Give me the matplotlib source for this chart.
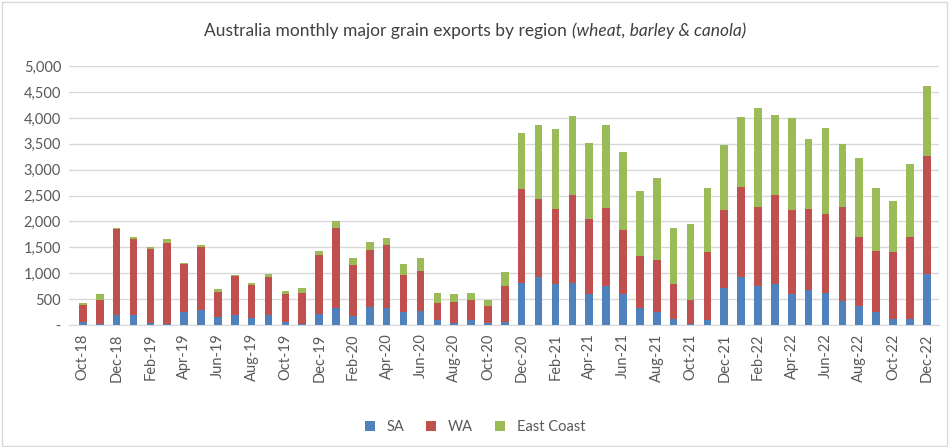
import numpy as np
import pandas as pd
import matplotlib
matplotlib.use("Agg")
import matplotlib.pyplot as plt

plt.rcParams['font.family'] = ['Lato', 'DejaVu Sans']

months = pd.date_range("2018-10-01", "2022-12-01", freq="MS").strftime("%b-%y").tolist()

sa = [65, 20, 194, 194, 40, 20, 258, 297, 155, 194, 142, 194, 65, 20, 213, 335, 180, 348, 335, 258,
      271, 103, 40, 103, 40, 65,
      813, 929, 794, 813, 600, 755, 606, 335, 258, 116, 20, 103, 723, 929, 755, 794, 606, 684, 619,
      465, 374, 258, 116, 116, 987]
wa = [320, 465, 1664, 1470, 1430, 1567, 922, 1213, 484, 754, 632, 735, 535, 599, 1142, 1542, 981,
      1104, 1213, 716, 774, 323, 405, 381, 328, 690,
      1819, 1510, 1438, 1703, 1452, 1510, 1233, 994, 1000, 684, 464, 1310, 1503, 1729, 1529, 1722,
      1620, 1548, 1529, 1819, 1329, 1174, 1297, 1574, 2284]
east = [45, 115, 20, 40, 40, 78, 26, 38, 58, 20, 39, 58, 58, 97, 77, 136, 136, 154, 136, 206,
        252, 193, 155, 135, 116, 271,
        1084, 1432, 1562, 1523, 1471, 1606, 1509, 1265, 1587, 1077, 1471, 1239, 1258, 1368, 1916,
        1549, 1780, 1368, 1665, 1219, 1529, 1220, 987, 1426, 1355]

fig = plt.figure(figsize=(9.5, 4.47), dpi=100)
ax = fig.add_axes([0.073, 0.273, 0.915, 0.579])

x = np.arange(len(months))
w = 0.45
sa_a = np.array(sa)
wa_a = np.array(wa)
ax.bar(x, sa, w, color="#4F81BD", label="SA", zorder=3)
ax.bar(x, wa, w, bottom=sa_a, color="#C0504D", label="WA", zorder=3)
ax.bar(x, east, w, bottom=sa_a + wa_a, color="#9BBB59", label="East Coast", zorder=3)

ax.set_ylim(0, 5000)
ax.set_xlim(-0.8, len(months) - 0.3)
ax.set_yticks(range(0, 5001, 500))
ax.set_yticklabels([" -" if v == 0 else f"{v:,}" for v in range(0, 5001, 500)],
                   fontsize=10.5, color="#595959")
ax.set_xticks(x[::2])
ax.set_xticklabels(months[::2], rotation=90, fontsize=10.5, color="#595959")
ax.grid(axis="y", color="#D9D9D9", linewidth=1, zorder=0)
for s in ["top", "right", "left"]:
    ax.spines[s].set_visible(False)
ax.spines["bottom"].set_color("#D9D9D9")
ax.tick_params(length=0, pad=6)

# title in two parts, the second italic
r = fig.canvas.get_renderer()
t1 = fig.text(0, 0.92, "Australia monthly major grain exports by region ", fontsize=12.5, color="#404040")
t2 = fig.text(0, 0.92, "(wheat, barley & canola)", fontsize=12.5, color="#404040", style="italic")
w1 = t1.get_window_extent(r).width / fig.bbox.width
w2 = t2.get_window_extent(r).width / fig.bbox.width
x0 = 0.5 - (w1 + w2) / 2
t1.set_x(x0)
t2.set_x(x0 + w1)

fig.legend(loc="lower center", ncol=3, frameon=False, fontsize=10.5, bbox_to_anchor=(0.5, 0.0),
           handlelength=0.7, handleheight=0.7, columnspacing=1.5, labelcolor="#595959")
fig.patches.append(plt.Rectangle((0.002, 0.003), 0.995, 0.993, transform=fig.transFigure,
                                 fill=False, edgecolor="#D9D9D9", linewidth=1))

fig.savefig("out.png", dpi=100)
